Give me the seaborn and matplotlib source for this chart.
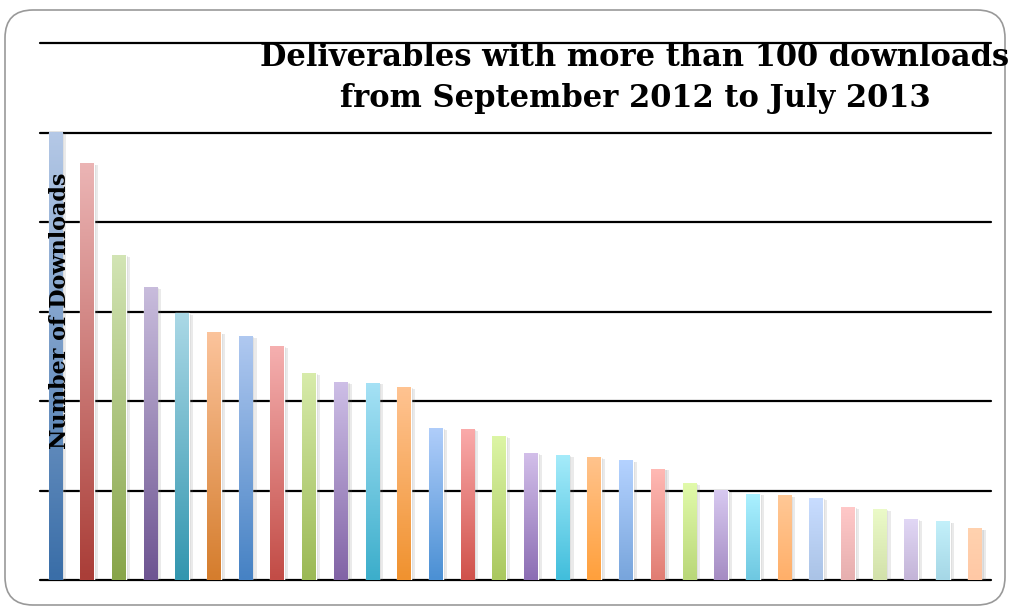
import numpy as np
import pandas as pd
import matplotlib
matplotlib.use("Agg")
import matplotlib.pyplot as plt
import matplotlib.patheffects as pe
from matplotlib.patches import FancyBboxPatch
import seaborn as sns

# deliverables, ranked by number of downloads (no tick labels in the source chart)
deliverables = [f"D{i}" for i in range(1, 31)]
downloads = [1000, 930, 726, 654, 596, 552, 544, 522, 462, 442,
             440, 430, 338, 336, 320, 282, 278, 274, 266, 248,
             216, 200, 192, 188, 182, 162, 158, 136, 130, 114]
y_ticks = [0, 200, 400, 600, 800, 1000, 1200]

# gradient colours per bar: bottom (dark) and top (light), 6 hues x 5 shades
bottom_colors = [
    "#3a6ea8", "#aa3e38", "#88a54a", "#6e5592", "#3296af", "#d57d2d",
    "#4682c4", "#c24c46", "#9bb955", "#8264a6", "#3caecb", "#f0922f",
    "#4b90d4", "#d0524b", "#aac85f", "#8c6eb4", "#41bedc", "#ffa03c",
    "#78a5dc", "#e17d73", "#b9d778", "#a58cc3", "#6ec8e1", "#ffaf69",
    "#aac3e6", "#e6afaf", "#d2e1aa", "#c3b4d7", "#a5d7e6", "#ffc8a5",
]
top_colors = [
    "#b4c8e6", "#ebb4b4", "#d2e4b4", "#c8bcdc", "#aad8e6", "#fbc39b",
    "#afc8f0", "#f5afaf", "#d7ebaa", "#cdbee6", "#a5e1f5", "#ffc391",
    "#afcdfa", "#faaaaa", "#dcf5a5", "#d2bee9", "#a5ebfa", "#ffc38c",
    "#b4d2ff", "#ffb9b4", "#e1faaa", "#d7c8f0", "#aaf0ff", "#ffc896",
    "#c8dcff", "#ffc8c8", "#ebfac8", "#e1d7f5", "#c3f0fa", "#ffd2af",
]

df = pd.DataFrame({"Deliverable": deliverables, "Downloads": downloads})

sns.set_theme(style="white")
plt.rcParams["font.family"] = ["DejaVu Serif"]
plt.rcParams["text.color"] = "black"

fig = plt.figure(figsize=(10.11, 6.09), dpi=100)
ax = fig.add_axes([39.5 / 1011, 1 - 580 / 609, 951 / 1011, 537 / 609])

sns.barplot(data=df, x="Deliverable", y="Downloads", ax=ax, width=0.43,
            color="#888888", saturation=1, zorder=3)

# vertical gradient fill + soft shadow on each bar
for p, c0, c1 in zip(ax.patches, bottom_colors, top_colors):
    p.set_path_effects([pe.SimplePatchShadow(offset=(3, -1), shadow_rgbFace="#777777", alpha=0.15),
                        pe.SimplePatchShadow(offset=(1.5, -0.5), shadow_rgbFace="#777777", alpha=0.15),
                        pe.Normal()])
    a = np.array(matplotlib.colors.to_rgb(c0))
    b = np.array(matplotlib.colors.to_rgb(c1))
    t = np.linspace(0, 1, 64)[:, None, None]
    grad = a + (b - a) * t
    x0, w, h = p.get_x(), p.get_width(), p.get_height()
    ax.imshow(grad, extent=[x0, x0 + w, 0, h], origin="lower", aspect="auto",
              interpolation="bilinear", zorder=4, clip_path=p)

ax.set_xlim(-0.5, len(deliverables) - 0.5)
ax.set_ylim(0, 1200)
ax.set_yticks(y_ticks)
ax.set_yticklabels([])
ax.set_xticks([])
ax.set_xlabel("")
ax.set_ylabel("")
for s in ax.spines.values():
    s.set_visible(False)
ax.yaxis.grid(True, color="black", linewidth=1.6)
for line in ax.get_ygridlines():
    line.set_clip_on(False)
ax.tick_params(left=False, bottom=False)
ax.set_axisbelow(True)

# title and axis label
fig.text(635 / 1011, 1 - 42 / 609,
         "Deliverables with more than 100 downloads\nfrom September 2012 to July 2013",
         ha="center", va="top", fontsize=22, fontweight="bold", linespacing=1.4,
         color="black")
fig.text(60 / 1011, 1 - 311 / 609, "Number of Downloads", rotation=90,
         ha="center", va="center", fontsize=16, fontweight="bold", zorder=10,
         color="black")

# rounded frame around the chart
frame = FancyBboxPatch((5, 4), 1000, 595, boxstyle="round,pad=0,rounding_size=28",
                       transform=None, facecolor="none", edgecolor="#999999",
                       linewidth=1.2, zorder=0)
fig.patches.append(frame)

fig.savefig("out.png", dpi=100)
